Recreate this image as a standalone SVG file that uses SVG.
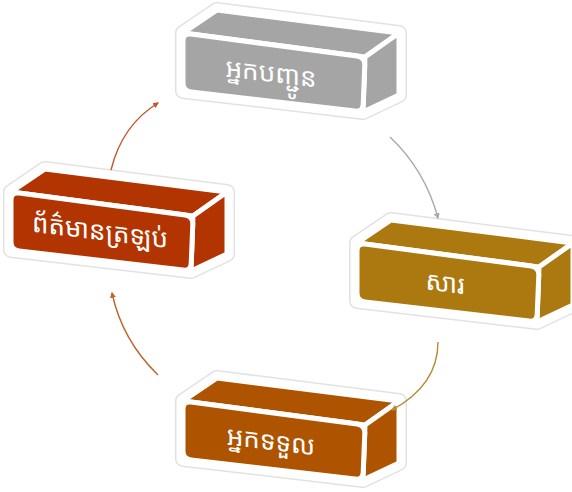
<svg xmlns="http://www.w3.org/2000/svg" width="572" height="492" viewBox="0 0 572 492">
<style>
.halo1{fill:#fff;stroke:#e2e2e2;stroke-width:16;stroke-linejoin:round}
.halo2{fill:#fff;stroke:#fff;stroke-width:13;stroke-linejoin:round}
.face{stroke:#fff;stroke-width:5;stroke-linejoin:round}
.lbl{font-family:"Noto Sans Khmer","Khmer OS","Khmer OS System","Noto Serif Khmer","DejaVu Sans",sans-serif;font-size:26px;fill:#fff;text-anchor:middle}
.arr{fill:none;stroke-width:1.4}
</style>
<defs>
<marker id="mA" viewBox="0 0 10 10" refX="8" refY="5" markerWidth="6" markerHeight="6" orient="auto" markerUnits="userSpaceOnUse"><path d="M0,0L10,5L0,10z" fill="#c0552e"/></marker>
<marker id="mB" viewBox="0 0 10 10" refX="8" refY="5" markerWidth="6" markerHeight="6" orient="auto" markerUnits="userSpaceOnUse"><path d="M0,0L10,5L0,10z" fill="#a9a9a9"/></marker>
<marker id="mC" viewBox="0 0 10 10" refX="8" refY="5" markerWidth="6" markerHeight="6" orient="auto" markerUnits="userSpaceOnUse"><path d="M0,0L10,5L0,10z" fill="#b98a3a"/></marker>
<marker id="mD" viewBox="0 0 10 10" refX="8" refY="5" markerWidth="6" markerHeight="6" orient="auto" markerUnits="userSpaceOnUse"><path d="M0,0L10,5L0,10z" fill="#c0662a"/></marker>
<path id="outline" d="M0,0L34,-23L216,0L216,62L180,79L0,58Z"/>
<path id="front" d="M0,8 Q0,0 8,1.1 L174,22.9 Q182,24 181.8,32 L180.2,71 Q180,79 172,78.1 L8,58.9 Q0,58 0,50 Z"/>
</defs>
<g id="sender" transform="translate(183,33)" fill="#a5a5a5">
<use href="#outline" class="halo1"/><use href="#outline" class="halo2"/>
<polygon class="face" points="0,0 34,-23 216,0 182,24"/>
<polygon class="face" points="182,24 216,0 216,62 180,79"/>
<use href="#front" class="face"/>
<text class="lbl" transform="translate(88,49) skewY(7)">អ្នកបញ្ជូន</text>
</g>
<g id="message" transform="translate(357,243)" fill="#ac7910">
<use href="#outline" class="halo1"/><use href="#outline" class="halo2"/>
<polygon class="face" points="0,0 34,-23 216,0 182,24"/>
<polygon class="face" points="182,24 216,0 216,62 180,79"/>
<use href="#front" class="face"/>
<text class="lbl" transform="translate(88,49) skewY(7)">សារ</text>
</g>
<g id="receiver" transform="translate(183,401)" fill="#ae5400">
<use href="#outline" class="halo1"/><use href="#outline" class="halo2"/>
<polygon class="face" points="0,0 34,-23 216,0 182,24"/>
<polygon class="face" points="182,24 216,0 216,62 180,79"/>
<use href="#front" class="face"/>
<text class="lbl" transform="translate(88,49) skewY(7)">អ្នកទទួល</text>
</g>
<g id="feedback" transform="translate(11,192)" fill="#b23400">
<use href="#outline" class="halo1"/><use href="#outline" class="halo2"/>
<polygon class="face" points="0,0 34,-23 216,0 182,24"/>
<polygon class="face" points="182,24 216,0 216,62 180,79"/>
<use href="#front" class="face"/>
<text class="lbl" transform="translate(89,48) skewY(7)">ព័ត៌មានត្រឡប់</text>
</g>
<g id="connectors">
<path class="arr" d="M111,170 Q122,125 158,103" stroke="#c0552e" marker-end="url(#mA)"/>
<path class="arr" d="M390,137 Q425,170 438,218" stroke="#a9a9a9" marker-end="url(#mB)"/>
<path class="arr" d="M438,342 Q438,385 392,410" stroke="#b98a3a" marker-end="url(#mC)"/>
<path class="arr" d="M158,375 Q122,340 112,293" stroke="#c0662a" marker-end="url(#mD)"/>
</g>
</svg>
